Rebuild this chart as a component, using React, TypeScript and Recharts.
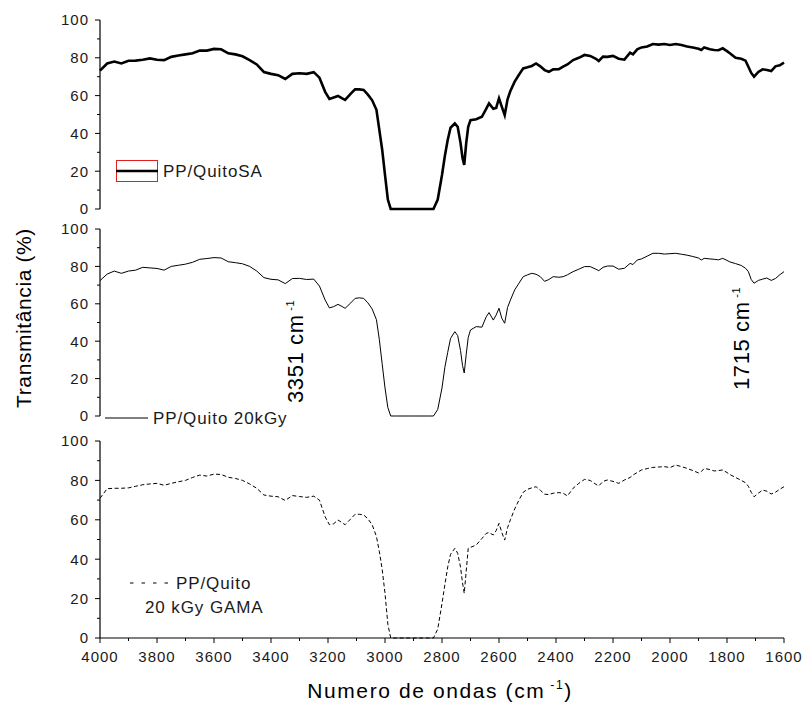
import { LineChart, Line, XAxis, YAxis } from 'recharts';

// FTIR spectra, wavenumber in cm-1 (same grid for the three samples)
const wavenumbers = [
  4000, 3975, 3950, 3925, 3900, 3875, 3850, 3825, 3800, 3775, 3750, 3725, 3700, 3675, 3650, 3625, 3600, 3575, 3550, 3525,
  3500, 3475, 3450, 3425, 3400, 3375, 3350, 3325, 3300, 3275, 3250, 3230, 3210, 3195, 3180, 3165, 3150, 3140, 3120, 3105,
  3090, 3075, 3060, 3045, 3030, 3020, 3010, 3000, 2990, 2980, 2960, 2900, 2850, 2830, 2815, 2800, 2790, 2780, 2770, 2755,
  2745, 2735, 2728, 2722, 2715, 2708, 2700, 2680, 2660, 2645, 2635, 2620, 2610, 2600, 2590, 2580, 2570, 2560, 2545, 2530,
  2515, 2500, 2485, 2470, 2455, 2440, 2425, 2410, 2390, 2375, 2360, 2340, 2320, 2300, 2280, 2260, 2250, 2235, 2220, 2200,
  2180, 2160, 2140, 2130, 2115, 2100, 2080, 2060, 2040, 2020, 2000, 1980, 1960, 1940, 1920, 1900, 1890, 1880, 1860, 1845,
  1830, 1815, 1800, 1790, 1770, 1750, 1735, 1725, 1715, 1705, 1690, 1675, 1660, 1645, 1630, 1615, 1600,
];

// PP/QuitoSA (top)
const quitoSA = [
  73.2, 77, 78, 77, 78.4, 78.5, 79, 79.7, 79, 78.8, 80.5, 81.2, 81.8, 82.4, 83.8, 83.8, 84.7, 84.5, 82.4, 81.8,
  80.8, 78.8, 76.5, 72.5, 71.5, 70.8, 68.8, 71.5, 71.8, 71.5, 72.4, 69.5, 62, 58.2, 59, 59.8, 58.5, 57.7, 61, 63.3,
  63.3, 63, 60.5, 57.5, 52.5, 42, 31.5, 18, 5, 0, 0, 0, 0, 0, 5, 18, 28, 36.5, 43, 45.3,
  43.5, 35, 27, 23.3, 35, 43.5, 47, 47.5, 48.8, 53, 55.9, 53, 53.5, 58.6, 54, 49.7, 58, 62.5, 67.4, 71,
  74.4, 75, 75.7, 77, 75.5, 73.5, 72.6, 73.9, 74, 75.3, 76.5, 78.8, 80, 81.5, 81, 79.5, 78.3, 80.6, 80.5, 81,
  79.5, 79, 82.7, 81.8, 84.5, 85.5, 86, 87.3, 87, 87.3, 86.8, 87.3, 86.8, 86, 85.5, 84.8, 84.1, 85.5, 84.5, 84.1,
  84, 85, 83.5, 82.4, 80, 79.5, 78.5, 75.3, 72, 70, 72.5, 73.9, 73.5, 73, 75.5, 76, 77.4,
];

// PP/Quito 20kGy (middle)
const quito20kGy = [
  72.4, 75.9, 77.5, 76.3, 77.5, 78, 79.5, 79.2, 78.9, 78, 80, 80.6, 81.2, 82.2, 83.8, 84.2, 84.7, 84.5, 82.5, 82,
  81.4, 80, 77.5, 74, 73.1, 72.8, 70.8, 73.5, 73.6, 73, 73.2, 69.5, 62, 57.8, 58.5, 59.7, 58.5, 57.6, 60.5, 62.9,
  63.2, 62.9, 60.5, 57.2, 51.5, 41, 28, 15, 4.5, 0, 0, 0, 0, 0, 3.5, 15, 26, 34, 41.5, 45.1,
  43, 35, 27, 23, 33, 42, 46, 47.8, 47.5, 53, 55.3, 51.3, 54, 57.6, 52.2, 49.6, 58, 62, 67.4, 71,
  74.5, 75.5, 76.3, 75.8, 74.5, 72, 73, 74.5, 74.2, 74.5, 75.5, 77.2, 78.5, 79.9, 79.9, 78.5, 77.7, 79.5, 80.2, 80.2,
  78.5, 79, 81.6, 81, 83.4, 84, 85.5, 87, 87, 86.6, 86.8, 87, 86.5, 86, 85.3, 84.5, 83.4, 84.3, 84, 83.8,
  83.5, 84.3, 83.2, 82.4, 81.5, 80.5, 79, 77.2, 73, 71, 72.5, 73.2, 73.8, 72.5, 73.5, 75.5, 77.2,
];

// PP/Quito 20 kGy GAMA (bottom)
const quitoGama = [
  70.9, 75.8, 76, 76, 76.2, 77, 77.8, 78.2, 78.5, 77.5, 78.5, 79.3, 80, 81.5, 82.7, 82.2, 83.2, 83, 81.6, 81,
  80, 78.2, 76, 72.6, 72, 71.7, 69.8, 72.3, 71.8, 71.4, 72, 70, 61.5, 57.5, 58, 59.9, 58.5, 57.5, 60.5, 62.8,
  62.8, 62.5, 60.5, 57.5, 51.5, 44, 35, 22.7, 7, 0, 0, 0, 0, 0, 4.5, 17.5, 27, 36, 42.5, 45.5,
  43, 36, 28, 22.7, 34, 45.5, 46, 47.2, 50.5, 53.1, 53.5, 52.3, 54.5, 58.2, 53.5, 49.7, 56, 60, 65.5, 70,
  74, 75.5, 76.2, 76.8, 75, 73, 72.8, 73.5, 73.8, 73.5, 72.1, 76, 78.5, 80.5, 80, 78, 77.2, 79.5, 80.2, 79.5,
  78.5, 80.2, 81.5, 82.7, 84, 85.3, 86, 86.6, 86.8, 87, 86.5, 87.8, 87, 86.1, 85, 83.8, 84.5, 86.1, 85.5, 84.8,
  85, 85.3, 84, 83, 81.5, 80, 78.8, 77, 74, 71.7, 73.5, 75.1, 74.5, 73.1, 74, 75.5, 76.8,
];

const yTicks = [0, 10, 20, 30, 40, 50, 60, 70, 80, 90, 100];
const xTicks = [4000, 3900, 3800, 3700, 3600, 3500, 3400, 3300, 3200, 3100, 3000, 2900, 2800, 2700, 2600, 2500, 2400, 2300, 2200, 2100, 2000, 1900, 1800, 1700, 1600];

const data = wavenumbers.map((w, i) => ({ w, sa: quitoSA[i], kgy: quito20kGy[i], gama: quitoGama[i] }));

const FONT = 'Arial, "Liberation Sans", sans-serif';
const TXT = '#1a1a1a';

function YTick(props: any) {
  const { x, y, payload } = props;
  const major = payload.value % 20 === 0;
  return (
    <g>
      <line x1={x - (major ? 5 : 3)} x2={x} y1={y} y2={y} stroke="#000" strokeWidth={1} />
      {major && (
        <text x={x - 11} y={y} dy="0.36em" textAnchor="end" fontSize={15} letterSpacing={1} fill={TXT} fontFamily={FONT}>
          {payload.value}
        </text>
      )}
    </g>
  );
}

function XTick(props: any) {
  const { x, y, payload } = props;
  const major = (4000 - payload.value) % 200 === 0;
  return (
    <g>
      <line x1={x} x2={x} y1={y} y2={y + (major ? 5 : 3)} stroke="#000" strokeWidth={1} />
      {major && (
        <text x={x} y={y + 24} textAnchor="middle" fontSize={15} letterSpacing={1} fill={TXT} fontFamily={FONT}>
          {payload.value}
        </text>
      )}
    </g>
  );
}

function Panel({ top, height, margin, dataKey, width, dash, bottomAxis }: any) {
  return (
    <div style={{ position: 'absolute', left: 0, top }}>
      <LineChart width={804} height={height} data={data} margin={margin}>
        <XAxis
          dataKey="w"
          type="number"
          domain={[1600, 4000]}
          reversed
          hide={!bottomAxis}
          ticks={xTicks}
          interval={0}
          tickSize={0}
          tickMargin={0}
          tickLine={false}
          tick={<XTick />}
          axisLine={{ stroke: '#000', strokeWidth: 1.2 }}
          height={40}
        />
        <YAxis
          type="number"
          domain={[0, 100]}
          ticks={yTicks}
          interval={0}
          width={100}
          tickSize={0}
          tickMargin={0}
          tickLine={false}
          tick={<YTick />}
          axisLine={{ stroke: '#000', strokeWidth: 1.2 }}
        />
        <Line
          type="linear"
          dataKey={dataKey}
          stroke="#000"
          strokeWidth={width}
          strokeDasharray={dash}
          dot={false}
          activeDot={false}
          isAnimationActive={false}
        />
      </LineChart>
    </div>
  );
}

export default function App() {
  return (
    <div style={{ position: 'absolute', left: 0, top: 0, width: 804, height: 704, background: '#fff', overflow: 'hidden' }}>
      <Panel top={0} height={217} margin={{ top: 20, right: 20, bottom: 8, left: 0 }} dataKey="sa" width={2.6} />
      <Panel top={217} height={207} margin={{ top: 12, right: 20, bottom: 8, left: 0 }} dataKey="kgy" width={1} />
      <Panel
        top={424}
        height={280}
        margin={{ top: 17, right: 20, bottom: 26, left: 0 }}
        dataKey="gama"
        width={1}
        dash="4 2.5"
        bottomAxis
      />

      <svg width={804} height={704} style={{ position: 'absolute', left: 0, top: 0, pointerEvents: 'none' }} fontFamily={FONT}>
        {/* legend top */}
        <rect x={116.5} y={160.5} width={41} height={21} fill="none" stroke="#e02020" strokeWidth={1} />
        <line x1={116} x2={158} y1={171} y2={171} stroke="#000" strokeWidth={2.6} />
        <text x={163} y={177} fontSize={17} letterSpacing={0.9} fill={TXT}>PP/QuitoSA</text>

        {/* legend middle */}
        <line x1={105} x2={148} y1={418} y2={418} stroke="#000" strokeWidth={1} />
        <text x={153} y={424} fontSize={17} letterSpacing={0.9} fill={TXT}>PP/Quito 20kGy</text>

        {/* legend bottom */}
        <line x1={130} x2={173} y1={583} y2={583} stroke="#000" strokeWidth={1} strokeDasharray="3.5 8" />
        <text x={176} y={589} fontSize={17} letterSpacing={0.9} fill={TXT}>PP/Quito</text>
        <text x={145} y={613} fontSize={17} letterSpacing={0.9} fill={TXT}>20 kGy GAMA</text>

        {/* band annotations */}
        <text transform="translate(303,403) rotate(-90)" fontSize={22} letterSpacing={0.6} fill="#000">
          3351 cm<tspan dy={-9} fontSize={11}> -1</tspan>
        </text>
        <text transform="translate(749,390) rotate(-90)" fontSize={22} letterSpacing={0.6} fill="#000">
          1715 cm<tspan dy={-9} fontSize={11}> -1</tspan>
        </text>

        {/* axis titles */}
        <text x={440} y={698} textAnchor="middle" fontSize={21} letterSpacing={1.6} fill="#000">
          Numero de ondas (cm<tspan dy={-9} fontSize={12}> -1</tspan><tspan dy={9}>)</tspan>
        </text>
        <text transform="translate(31,318) rotate(-90)" textAnchor="middle" fontSize={21} letterSpacing={0.6} fill="#000">
          Transmitância (%)
        </text>
      </svg>
    </div>
  );
}
